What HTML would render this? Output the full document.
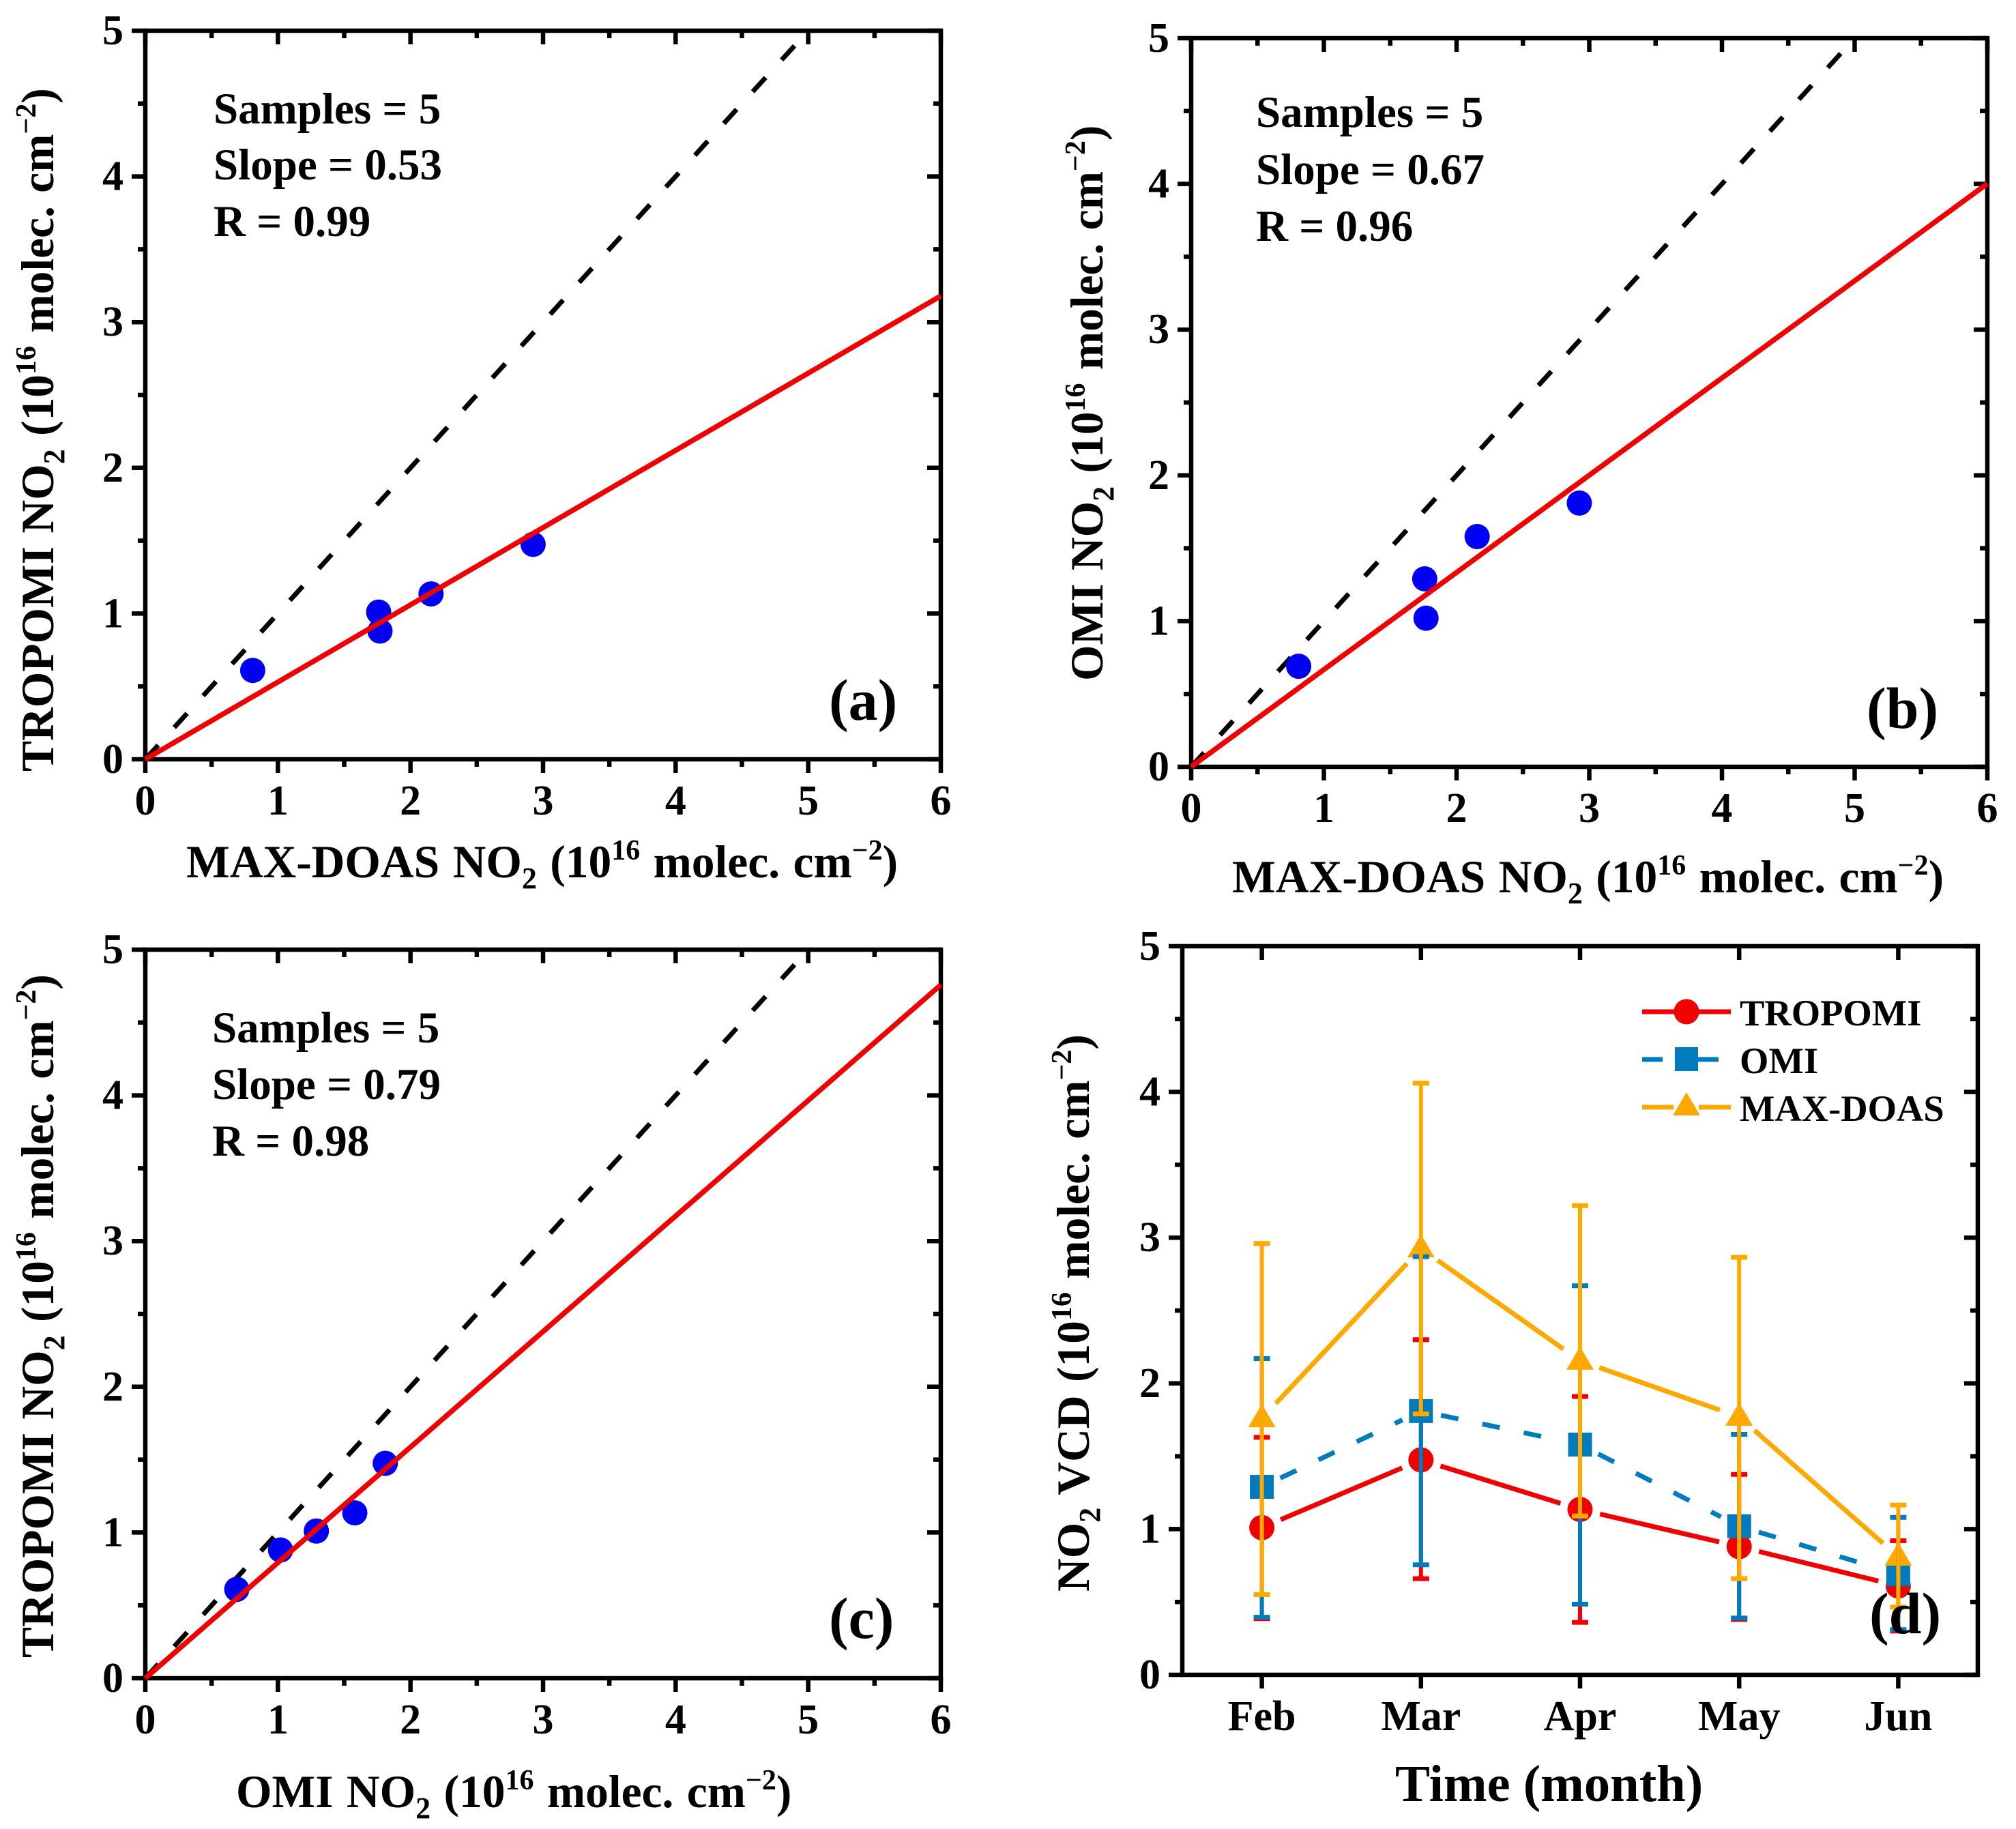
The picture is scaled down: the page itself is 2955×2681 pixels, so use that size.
<!DOCTYPE html>
<html lang="en">
<head>
<meta charset="utf-8">
<title>NO2 column comparison: TROPOMI, OMI and MAX-DOAS</title>
<style>
html,body{margin:0;padding:0;background:#fff}
svg{display:block}
text{font-family:"Liberation Serif",serif;font-weight:bold;fill:#000}
.tick{font-size:62px}
.stat{font-size:65px}
.ttl{font-size:67.5px;word-spacing:2.5px}
.tag{font-size:86px}
.leg{font-size:54.5px}
</style>
</head>
<body>
<svg id="figure" xmlns="http://www.w3.org/2000/svg" width="2955" height="2681" viewBox="0 0 2955 2681">
<rect x="0" y="0" width="2955" height="2681" fill="#fff"/>

<g id="panel-a"></g>
<g id="panel-b"></g>
<g id="panel-c"></g>
<g id="panel-d"></g>

<g>
<text class="stat" x="313" y="181">Samples = 5</text>
<text class="stat" x="313" y="263">Slope = 0.53</text>
<text class="stat" x="313" y="346">R = 0.99</text>
<text class="tag" x="1215" y="1055">(a)</text>
<text class="ttl" x="273" y="1286">MAX-DOAS NO<tspan font-size="44" dy="16">2</tspan><tspan dy="-16"> (10</tspan><tspan font-size="42" dy="-26">16</tspan><tspan dy="26"> molec. cm</tspan><tspan font-size="42" dy="-26">−2</tspan><tspan dy="26">)</tspan></text>
<text class="ttl" transform="translate(78,1131) rotate(-90)">TROPOMI NO<tspan font-size="44" dy="16">2</tspan><tspan dy="-16"> (10</tspan><tspan font-size="42" dy="-26">16</tspan><tspan dy="26"> molec. cm</tspan><tspan font-size="42" dy="-26">−2</tspan><tspan dy="26">)</tspan></text>
</g>

<g>
<text class="stat" x="1841" y="186">Samples = 5</text>
<text class="stat" x="1841" y="270">Slope = 0.67</text>
<text class="stat" x="1841" y="353">R = 0.96</text>
<text class="tag" x="2736" y="1067">(b)</text>
<text class="ttl" x="1806" y="1308">MAX-DOAS NO<tspan font-size="44" dy="16">2</tspan><tspan dy="-16"> (10</tspan><tspan font-size="42" dy="-26">16</tspan><tspan dy="26"> molec. cm</tspan><tspan font-size="42" dy="-26">−2</tspan><tspan dy="26">)</tspan></text>
<text class="ttl" transform="translate(1616,998) rotate(-90)">OMI NO<tspan font-size="44" dy="16">2</tspan><tspan dy="-16"> (10</tspan><tspan font-size="42" dy="-26">16</tspan><tspan dy="26"> molec. cm</tspan><tspan font-size="42" dy="-26">−2</tspan><tspan dy="26">)</tspan></text>
</g>

<g>
<text class="stat" x="311" y="1528">Samples = 5</text>
<text class="stat" x="311" y="1611">Slope = 0.79</text>
<text class="stat" x="311" y="1694">R = 0.98</text>
<text class="tag" x="1215" y="2401">(c)</text>
<text class="ttl" x="346" y="2649">OMI NO<tspan font-size="44" dy="16">2</tspan><tspan dy="-16"> (10</tspan><tspan font-size="42" dy="-26">16</tspan><tspan dy="26"> molec. cm</tspan><tspan font-size="42" dy="-26">−2</tspan><tspan dy="26">)</tspan></text>
<text class="ttl" transform="translate(78,2430) rotate(-90)">TROPOMI NO<tspan font-size="44" dy="16">2</tspan><tspan dy="-16"> (10</tspan><tspan font-size="42" dy="-26">16</tspan><tspan dy="26"> molec. cm</tspan><tspan font-size="42" dy="-26">−2</tspan><tspan dy="26">)</tspan></text>
</g>

<g>
<text class="ttl" x="2045" y="2640" style="font-size:76.5px;word-spacing:0">Time (month)</text>
<text class="ttl" transform="translate(1596,2333) rotate(-90)">NO<tspan font-size="44" dy="16">2</tspan><tspan dy="-16"> VCD (10</tspan><tspan font-size="42" dy="-26">16</tspan><tspan dy="26"> molec. cm</tspan><tspan font-size="42" dy="-26">−2</tspan><tspan dy="26">)</tspan></text>
<g>
<line x1="2407" y1="1483" x2="2537" y2="1483" stroke="#f00000" stroke-width="7"/>
<circle cx="2472" cy="1483" r="18.5" fill="#f00000"/>
<text class="leg" x="2550" y="1503">TROPOMI</text>
<line x1="2407" y1="1553" x2="2437" y2="1553" stroke="#007cbe" stroke-width="7"/>
<line x1="2488" y1="1553" x2="2519" y2="1553" stroke="#007cbe" stroke-width="7"/>
<rect x="2455" y="1535" width="34" height="35" fill="#007cbe"/>
<text class="leg" x="2550" y="1573">OMI</text>
<line x1="2407" y1="1623" x2="2453" y2="1623" stroke="#ffa800" stroke-width="7"/>
<line x1="2490" y1="1623" x2="2537" y2="1623" stroke="#ffa800" stroke-width="7"/>
<polygon points="2472,1601 2492,1635 2452,1635" fill="#ffa800"/>
<text class="leg" x="2550" y="1643">MAX-DOAS</text>
</g>
</g>
<text class="tag" id="panel-d-tag" x="2740" y="2394">(d)</text>
</svg>

<script>
// ---- chart data (units 10^16 molec. cm^-2) ----
const months = ['Feb', 'Mar', 'Apr', 'May', 'Jun'];
const tropomi = [1.01, 1.475, 1.135, 0.88, 0.61];
const omi = [1.29, 1.81, 1.58, 1.02, 0.69];
const maxdoas = [1.76, 2.925, 2.155, 1.77, 0.81];
const tropomiUpper = [1.63, 2.30, 1.91, 1.375, 0.92];
const tropomiLower = [0.385, 0.66, 0.36, 0.38, 0.30];
const omiUpper = [2.17, 2.87, 2.67, 1.65, 1.08];
const omiLower = [0.395, 0.755, 0.485, 0.39, 0.31];
const maxdoasUpper = [2.96, 4.06, 3.22, 2.865, 1.165];
const maxdoasLower = [0.55, 1.79, 1.09, 0.66, 0.465];
const fitSlopes = [0.53, 0.667, 0.793];
const scatterTicksX = [0, 1, 2, 3, 4, 5, 6];
const scatterMinorX = [0.5, 1.5, 2.5, 3.5, 4.5, 5.5];
const ticksY = [0, 1, 2, 3, 4, 5];
const minorY = [0.5, 1.5, 2.5, 3.5, 4.5];

// ---- layout ----
const SVGNS = 'http://www.w3.org/2000/svg';
const frameA = {id: 'panel-a', key: 'a', left: 213, right: 1379, top: 45, bottom: 1113, xMin: 0, xMax: 6};
const frameB = {id: 'panel-b', key: 'b', left: 1746, right: 2913, top: 56, bottom: 1124, xMin: 0, xMax: 6};
const frameC = {id: 'panel-c', key: 'c', left: 213, right: 1379, top: 1392, bottom: 2460, xMin: 0, xMax: 6};
const frameD = {id: 'panel-d', key: 'd', left: 1733, right: 2899, top: 1387, bottom: 2455, xMin: 0.5, xMax: 5.5};

function xAxis(f, v) {
  return f.left + (v - f.xMin) / (f.xMax - f.xMin) * (f.right - f.left);
}
function yAxis(f, v) {
  return f.bottom - v / 5 * (f.bottom - f.top);
}
function make(parent, tag, attrs) {
  const el = document.createElementNS(SVGNS, tag);
  for (const k in attrs) el.setAttribute(k, attrs[k]);
  parent.appendChild(el);
  return el;
}
function lineEl(parent, x1, y1, x2, y2, stroke, width) {
  return make(parent, 'line', {x1: x1, y1: y1, x2: x2, y2: y2, stroke: stroke, 'stroke-width': width});
}

function drawAxes(f, xMajor, xMinor, xLabels) {
  const g = document.getElementById(f.id);
  const BLACK = '#000', AW = 6.5, MAJ = 20, MIN = 11;
  ticksY.forEach(function (v) {
    const y = yAxis(f, v);
    const left = lineEl(g, f.left - MAJ, y, f.left, y, BLACK, AW);
    
    
    const right = lineEl(g, f.right - MAJ, y, f.right, y, BLACK, AW);
    
    
    const label = make(g, 'text', {x: f.left - 32, y: y + 20, 'text-anchor': 'end', class: 'tick'});
    label.textContent = String(v);
    
    
  });
  minorY.forEach(function (v) {
    const y = yAxis(f, v);
    const left = lineEl(g, f.left - MIN, y, f.left, y, BLACK, AW);
    
    
    const right = lineEl(g, f.right - MIN, y, f.right, y, BLACK, AW);
    
    
  });
  xMajor.forEach(function (v, i) {
    const x = xAxis(f, v);
    const bottom = lineEl(g, x, f.bottom, x, f.bottom + MAJ, BLACK, AW);
    
    
    const top = lineEl(g, x, f.top, x, f.top + MAJ, BLACK, AW);
    
    
    const label = make(g, 'text', {x: x, y: f.bottom + 81, 'text-anchor': 'middle', class: 'tick'});
    label.textContent = String(xLabels[i]);
    
    
  });
  xMinor.forEach(function (v) {
    const x = xAxis(f, v);
    const bottom = lineEl(g, x, f.bottom, x, f.bottom + MIN, BLACK, AW);
    
    
    const top = lineEl(g, x, f.top, x, f.top + MIN, BLACK, AW);
    
    
  });
  const frame = make(g, 'rect', {x: f.left, y: f.top, width: f.right - f.left, height: f.bottom - f.top, fill: 'none', stroke: BLACK, 'stroke-width': AW});
  
  
}

function drawScatter(f, xs, ys, slope) {
  const g = document.getElementById(f.id);
  const one = lineEl(g, xAxis(f, 0), yAxis(f, 0), xAxis(f, 5), yAxis(f, 5), '#000', 7);
  one.setAttribute('stroke-dasharray', '28 35');
  
  
  xs.forEach(function (v, i) {
    const dot = make(g, 'circle', {cx: xAxis(f, v), cy: yAxis(f, ys[i]), r: 18.5, fill: '#0000f5'});
    
    
  });
  const fit = lineEl(g, xAxis(f, 0), yAxis(f, 0), xAxis(f, 6), yAxis(f, slope * 6), '#f00000', 7.5);
  
  
}

function drawSeriesLine(g, f, values, color, dash, name) {
  const GAP = 30;
  for (let i = 0; i < values.length - 1; i++) {
    const x1 = xAxis(f, i + 1), y1 = yAxis(f, values[i]);
    const x2 = xAxis(f, i + 2), y2 = yAxis(f, values[i + 1]);
    const len = Math.hypot(x2 - x1, y2 - y1);
    const ux = (x2 - x1) / len, uy = (y2 - y1) / len;
    const seg = lineEl(g, x1 + ux * GAP, y1 + uy * GAP, x2 - ux * GAP, y2 - uy * GAP, color, 7);
    if (dash) seg.setAttribute('stroke-dasharray', dash);
    
    
  }
}

function drawErrorBars(g, f, upper, lower, color, name) {
  const CAP = 12;
  upper.forEach(function (v, i) {
    const x = xAxis(f, i + 1), yu = yAxis(f, v), yl = yAxis(f, lower[i]);
    const stem = lineEl(g, x, yu, x, yl, color, 6);
    
    
    const capU = lineEl(g, x - CAP, yu, x + CAP, yu, color, 7);
    
    
    const capL = lineEl(g, x - CAP, yl, x + CAP, yl, color, 7);
    
    
  });
}

function drawMonthly(f) {
  const g = document.getElementById(f.id);
  const RED = '#f00000', BLUE = '#007cbe', ORANGE = '#ffa800';
  drawSeriesLine(g, f, tropomi, RED, null, 'tropomi');
  tropomi.forEach(function (v, i) {
    const m = make(g, 'circle', {cx: xAxis(f, i + 1), cy: yAxis(f, v), r: 18.5, fill: RED});
    
    
  });
  drawSeriesLine(g, f, omi, BLUE, '26 36', 'omi');
  omi.forEach(function (v, i) {
    const m = make(g, 'rect', {x: xAxis(f, i + 1) - 17.5, y: yAxis(f, v) - 17.5, width: 35, height: 35, fill: BLUE});
    
    
  });
  drawSeriesLine(g, f, maxdoas, ORANGE, null, 'maxdoas');
  maxdoas.forEach(function (v, i) {
    const x = xAxis(f, i + 1), y = yAxis(f, v);
    const pts = x + ',' + (y - 21) + ' ' + (x + 20) + ',' + (y + 13) + ' ' + (x - 20) + ',' + (y + 13);
    const m = make(g, 'polygon', {points: pts, fill: ORANGE});
    
    
  });
  drawErrorBars(g, f, tropomiUpper, tropomiLower, RED, 'tropomi');
  drawErrorBars(g, f, omiUpper, omiLower, BLUE, 'omi');
  drawErrorBars(g, f, maxdoasUpper, maxdoasLower, ORANGE, 'maxdoas');
}

drawAxes(frameA, scatterTicksX, scatterMinorX, scatterTicksX);
drawAxes(frameB, scatterTicksX, scatterMinorX, scatterTicksX);
drawAxes(frameC, scatterTicksX, scatterMinorX, scatterTicksX);
drawAxes(frameD, [1, 2, 3, 4, 5], [], months);
drawScatter(frameA, maxdoas, tropomi, fitSlopes[0]);
drawScatter(frameB, maxdoas, omi, fitSlopes[1]);
drawScatter(frameC, omi, tropomi, fitSlopes[2]);
drawMonthly(frameD);
</script>
</body>
</html>
